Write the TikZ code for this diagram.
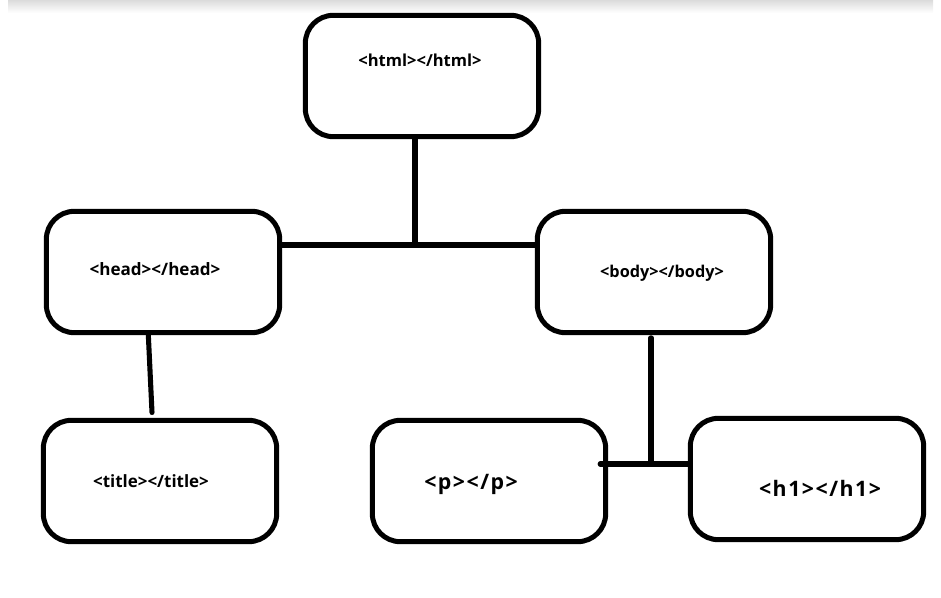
\documentclass[tikz,border=0pt]{standalone}
\usepackage{fontspec}
\setsansfont{Open Sans}
\tikzset{
  tagbox/.style={draw, line width=3.75pt, rounded corners=21pt, minimum width=175pt, minimum height=91pt, inner sep=0pt},
  tagtext/.style={font=\sffamily\bfseries\fontsize{#1}{#1}\selectfont, inner sep=0pt},
  widetag/.style={tagtext=#1, font=\sffamily\bfseries\fontsize{#1}{#1}\selectfont\addfontfeature{LetterSpace=7}},
  link/.style={line width=3.8pt, line cap=round}
}
\begin{document}
\begin{tikzpicture}[x=0.75pt,y=0.75pt,yscale=-1,xscale=1]
\useasboundingbox (0,0) rectangle (941,598);
%Shape: top shadow
\shade [top color=black!14, bottom color=white] (8,0) rectangle (933,13);

%Shape: Rounded Rect
\node [tagbox] (html) at (422,76) {};
\node [tagbox] (head) at (163,272) {};
\node [tagbox] (body) at (654,272) {};
\node [tagbox] (title) at (160,481) {};
\node [tagbox] (p) at (489,481) {};
\node [tagbox] (h1) at (807,479) {};

% Text Node
\node [tagtext=12.4] (htmlt) at (420,60) {<html></html>};
% Text Node
\node [tagtext=12.8] (headt) at (155,269) {<head></head>};
% Text Node
\node [tagtext=12.2] (bodyt) at (662,273) {<body></body>};
% Text Node
\node [tagtext=12.7] (titlet) at (151,481) {<title></title>};
% Text Node
\node [widetag=16] (pt) at (471,484) {<p></p>};
% Text Node
\node [widetag=16] (h1t) at (820,488) {<h1></h1>};

%Straight Lines
\coordinate (top) at (415,245);
\coordinate (bot) at (651,464);
\draw [link] (top |- html.south) -- (top);
\draw [link] (head.east |- top) -- (top) -- (body.west |- top);
\draw [link] ([xshift=-11pt]head.south) -- ([xshift=-6pt,yshift=-4pt]title.north);
\draw [link] ([yshift=2pt]bot |- body.south) -- (bot);
\draw [link] ([xshift=-6pt]p.east |- bot) -- (bot) -- (h1.west |- bot);

\end{tikzpicture}
\end{document}
